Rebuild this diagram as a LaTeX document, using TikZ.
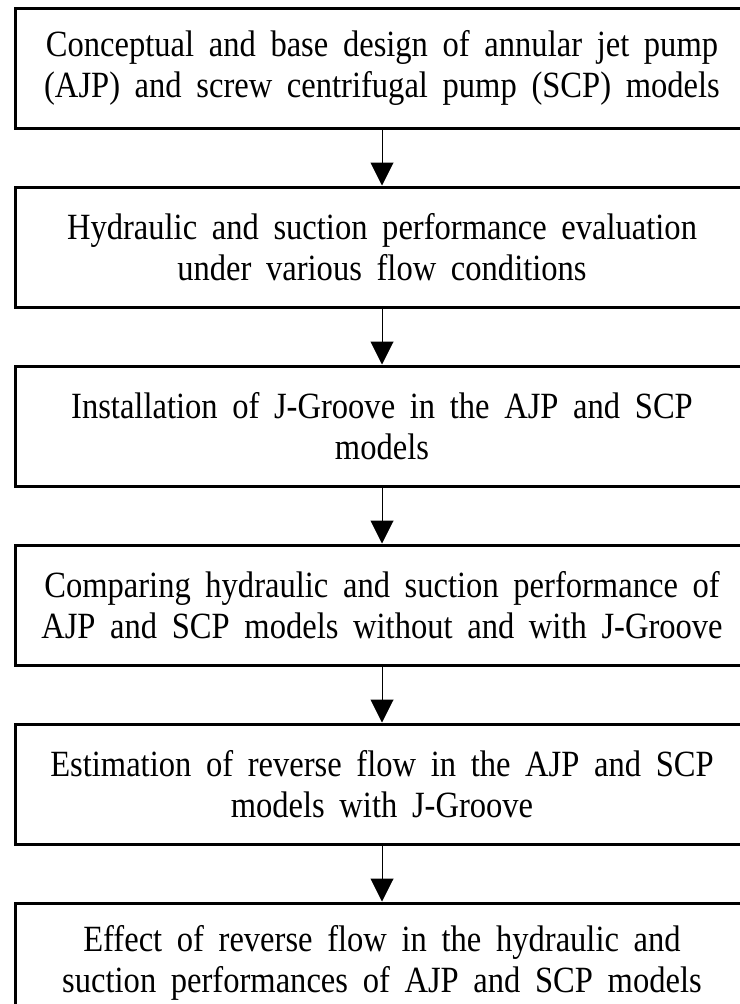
\documentclass[tikz,border=0pt]{standalone}
\usepackage{fontspec}
\setmainfont{Liberation Serif}[FakeStretch=0.88, WordSpace=1.8]
\usetikzlibrary{positioning,arrows.meta}

\begin{document}
\begin{tikzpicture}[x=1pt, y=1pt, node distance=56pt,
  stage/.style={draw, line width=3pt, minimum width=734pt, minimum height=120pt,
    inner sep=0pt, align=center, font=\fontsize{37}{41}\selectfont},
  flow/.style={line width=1pt, -{Triangle[width=23pt,length=23pt]}}]
\useasboundingbox (0,0) rectangle (739,-1004);

\node[stage] (design) at (382,-68) {Conceptual and base design of annular jet pump\\(AJP) and screw centrifugal pump (SCP) models};
\node[stage, below=of design] (evaluation) {Hydraulic and suction performance evaluation\\under various flow conditions};
\node[stage, below=of evaluation] (groove) {Installation of J-Groove in the AJP and SCP\\models};
\node[stage, below=of groove] (compare) {Comparing hydraulic and suction performance of\\AJP and SCP models without and with J-Groove};
\node[stage, below=of compare] (reverse) {Estimation of reverse flow in the AJP and SCP\\models with J-Groove};
\node[stage, below=of reverse] (effect) {Effect of reverse flow in the hydraulic and\\suction performances of AJP and SCP models};

\draw[flow] (design.south) -- (evaluation.north);
\draw[flow] (evaluation.south) -- (groove.north);
\draw[flow] (groove.south) -- (compare.north);
\draw[flow] (compare.south) -- (reverse.north);
\draw[flow] (reverse.south) -- (effect.north);
\end{tikzpicture}
\end{document}
